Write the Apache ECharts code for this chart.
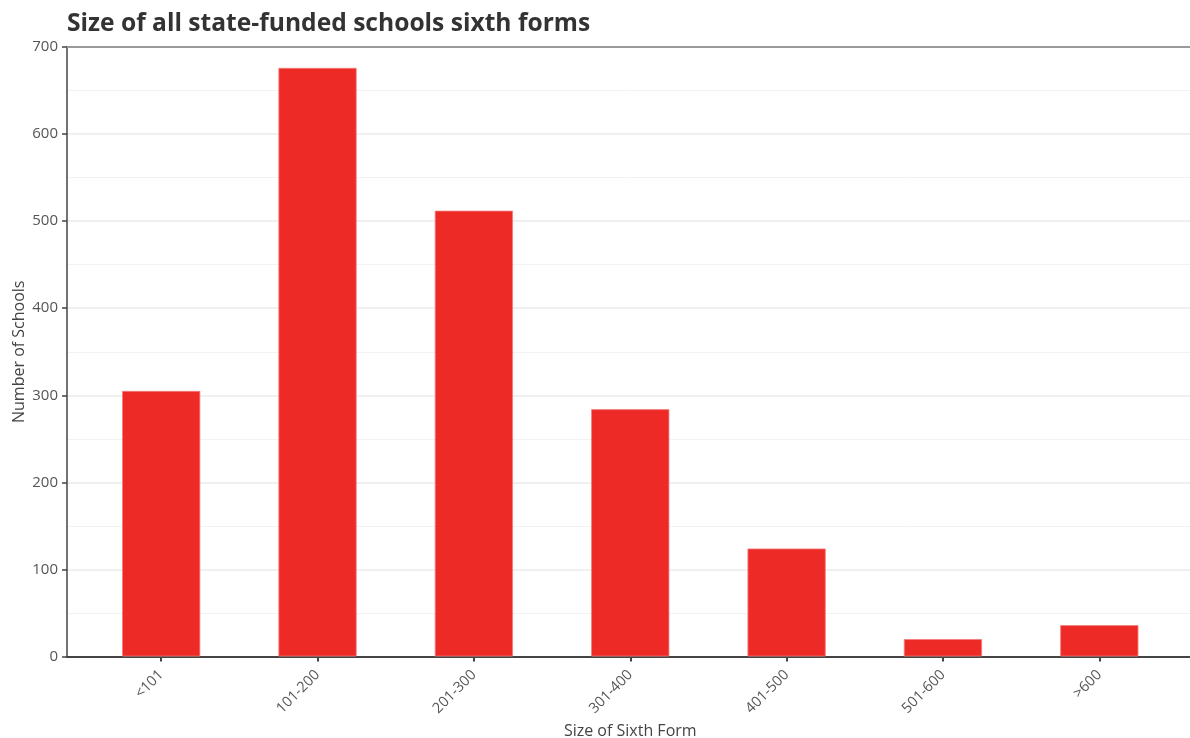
<!DOCTYPE html>
<html>
<head>
<meta charset="utf-8">
<script src="https://cdn.jsdelivr.net/npm/echarts@6/dist/echarts.min.js"></script>
<style>
html,body{margin:0;padding:0;background:#fff;}
#chart{width:1190px;height:738px;}
</style>
</head>
<body>
<div id="chart"></div>
<script>
const categories = ['<101', '101-200', '201-300', '301-400', '401-500', '501-600', '>600'];
const schoolCounts = [305, 676, 512, 284, 124, 20, 36];
const yTicks = [0, 100, 200, 300, 400, 500, 600, 700];

const FONT = '"Open Sans", "Noto Sans", sans-serif';
const chart = echarts.init(document.getElementById('chart'));
chart.setOption({
  backgroundColor: '#fff',
  animation: false,
  title: {
    text: 'Size of all state-funded schools sixth forms',
    left: 62, top: 6,
    textStyle: {fontFamily: FONT, fontWeight: 'bold', fontSize: 24.6, color: '#333'}
  },
  grid: [
    {left: 67, right: 0, top: 47, bottom: 81.5, outerBoundsMode: 'none', containLabel: false},
    {left: 83, right: 12.5, top: 47, bottom: 81.5, outerBoundsMode: 'none', containLabel: false}
  ],
  xAxis: [
    {gridIndex: 0, type: 'value', min: 0, max: 1, position: 'bottom',
     axisLine: {show: true, lineStyle: {color: '#444', width: 2}},
     axisTick: {show: false}, axisLabel: {show: false}, splitLine: {show: false}},
    {gridIndex: 0, type: 'value', min: 0, max: 1, position: 'top',
     axisLine: {show: true, lineStyle: {color: '#9a9a9a', width: 2}},
     axisTick: {show: false}, axisLabel: {show: false}, splitLine: {show: false}},
    {gridIndex: 1, type: 'category', data: categories, position: 'bottom',
     boundaryGap: true,
     axisLine: {show: false},
     axisTick: {show: true, alignWithLabel: true, length: 5, lineStyle: {color: '#444', width: 2}},
     axisLabel: {rotate: 45, fontFamily: FONT, fontSize: 14.5, color: '#555', margin: 16},
     name: 'Size of Sixth Form', nameLocation: 'middle', nameGap: 60,
     nameTextStyle: {fontFamily: FONT, fontSize: 16, color: '#444'}}
  ],
  yAxis: [
    {gridIndex: 0, type: 'value', min: 0, max: 700, interval: 100,
     axisLine: {show: true, lineStyle: {color: '#444', width: 1.5}},
     axisTick: {show: true, length: 5, lineStyle: {color: '#444', width: 1.5}},
     axisLabel: {fontFamily: FONT, fontSize: 15, color: '#555', margin: 9,
       formatter: function (v) { return yTicks.indexOf(v) >= 0 ? String(v) : ''; }},
     splitLine: {show: true, lineStyle: {color: '#ebebeb', width: 1.5}},
     minorTick: {show: false, splitNumber: 2},
     minorSplitLine: {show: true, lineStyle: {color: '#f2f2f2', width: 1}},
     name: 'Number of Schools', nameLocation: 'middle', nameGap: 40, nameMoveOverlap: false,
     nameTextStyle: {fontFamily: FONT, fontSize: 16, color: '#444'}},
    {gridIndex: 1, type: 'value', min: 0, max: 700, interval: 100, show: false,
     splitLine: {show: false}}
  ],
  series: [{
    type: 'bar',
    xAxisIndex: 2, yAxisIndex: 1,
    data: schoolCounts,
    barCategoryGap: '50%',
    itemStyle: {color: '#ee2a27', borderColor: '#f47c7a', borderWidth: 0.8},
    emphasis: {disabled: true}
  }]
});
</script>
</body>
</html>
